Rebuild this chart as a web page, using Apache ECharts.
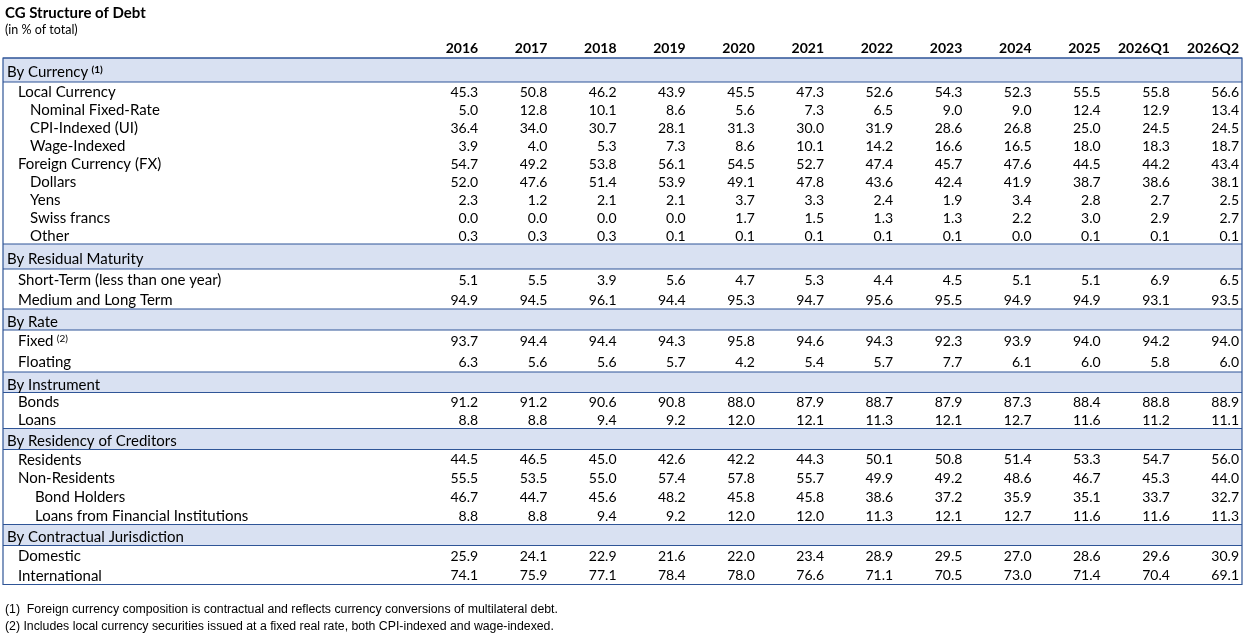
<!DOCTYPE html>
<html>
<head>
<meta charset="utf-8">
<script src="https://cdn.jsdelivr.net/npm/echarts@6/dist/echarts.min.js"></script>
<style>
  html, body { margin: 0; padding: 0; background: #fff; }
  #chart { width: 1246px; height: 634px; }
</style>
</head>
<body>
<div id="chart"></div>
<script>
/* -------------------------------------------------------------------------- */
// Data: columns and one array per table row
var columns = ['2016', '2017', '2018', '2019', '2020', '2021', '2022', '2023', '2024', '2025', '2026Q1', '2026Q2'];

var localCurrency   = [45.3, 50.8, 46.2, 43.9, 45.5, 47.3, 52.6, 54.3, 52.3, 55.5, 55.8, 56.6];
var nominalFixed    = [5.0, 12.8, 10.1, 8.6, 5.6, 7.3, 6.5, 9.0, 9.0, 12.4, 12.9, 13.4];
var cpiIndexed      = [36.4, 34.0, 30.7, 28.1, 31.3, 30.0, 31.9, 28.6, 26.8, 25.0, 24.5, 24.5];
var wageIndexed     = [3.9, 4.0, 5.3, 7.3, 8.6, 10.1, 14.2, 16.6, 16.5, 18.0, 18.3, 18.7];
var foreignCurrency = [54.7, 49.2, 53.8, 56.1, 54.5, 52.7, 47.4, 45.7, 47.6, 44.5, 44.2, 43.4];
var dollars         = [52.0, 47.6, 51.4, 53.9, 49.1, 47.8, 43.6, 42.4, 41.9, 38.7, 38.6, 38.1];
var yens            = [2.3, 1.2, 2.1, 2.1, 3.7, 3.3, 2.4, 1.9, 3.4, 2.8, 2.7, 2.5];
var swissFrancs     = [0.0, 0.0, 0.0, 0.0, 1.7, 1.5, 1.3, 1.3, 2.2, 3.0, 2.9, 2.7];
var otherCurrency   = [0.3, 0.3, 0.3, 0.1, 0.1, 0.1, 0.1, 0.1, 0.0, 0.1, 0.1, 0.1];
var shortTerm       = [5.1, 5.5, 3.9, 5.6, 4.7, 5.3, 4.4, 4.5, 5.1, 5.1, 6.9, 6.5];
var mediumLongTerm  = [94.9, 94.5, 96.1, 94.4, 95.3, 94.7, 95.6, 95.5, 94.9, 94.9, 93.1, 93.5];
var fixedRate       = [93.7, 94.4, 94.4, 94.3, 95.8, 94.6, 94.3, 92.3, 93.9, 94.0, 94.2, 94.0];
var floatingRate    = [6.3, 5.6, 5.6, 5.7, 4.2, 5.4, 5.7, 7.7, 6.1, 6.0, 5.8, 6.0];
var bonds           = [91.2, 91.2, 90.6, 90.8, 88.0, 87.9, 88.7, 87.9, 87.3, 88.4, 88.8, 88.9];
var loans           = [8.8, 8.8, 9.4, 9.2, 12.0, 12.1, 11.3, 12.1, 12.7, 11.6, 11.2, 11.1];
var residents       = [44.5, 46.5, 45.0, 42.6, 42.2, 44.3, 50.1, 50.8, 51.4, 53.3, 54.7, 56.0];
var nonResidents    = [55.5, 53.5, 55.0, 57.4, 57.8, 55.7, 49.9, 49.2, 48.6, 46.7, 45.3, 44.0];
var bondHolders     = [46.7, 44.7, 45.6, 48.2, 45.8, 45.8, 38.6, 37.2, 35.9, 35.1, 33.7, 32.7];
var loansFinancial  = [8.8, 8.8, 9.4, 9.2, 12.0, 12.0, 11.3, 12.1, 12.7, 11.6, 11.6, 11.3];
var domestic        = [25.9, 24.1, 22.9, 21.6, 22.0, 23.4, 28.9, 29.5, 27.0, 28.6, 29.6, 30.9];
var international   = [74.1, 75.9, 77.1, 78.4, 78.0, 76.6, 71.1, 70.5, 73.0, 71.4, 70.4, 69.1];

var footnotes = [
  '(1)  Foreign currency composition is contractual and reflects currency conversions of multilateral debt.',
  '(2) Includes local currency securities issued at a fixed real rate, both CPI-indexed and wage-indexed.'
];

// level 0 = section header, 1..3 = indented rows
var rows = [
  { label: 'By Currency', sup: '(1)', level: 0 },
  { label: 'Local Currency', level: 1, values: localCurrency },
  { label: 'Nominal Fixed-Rate', level: 2, values: nominalFixed },
  { label: 'CPI-Indexed (UI)', level: 2, values: cpiIndexed },
  { label: 'Wage-Indexed', level: 2, values: wageIndexed },
  { label: 'Foreign Currency (FX)', level: 1, values: foreignCurrency },
  { label: 'Dollars', level: 2, values: dollars },
  { label: 'Yens', level: 2, values: yens },
  { label: 'Swiss francs', level: 2, values: swissFrancs },
  { label: 'Other', level: 2, values: otherCurrency },
  { label: 'By Residual Maturity', level: 0 },
  { label: 'Short-Term (less than one year)', level: 1, values: shortTerm },
  { label: 'Medium and Long Term', level: 1, values: mediumLongTerm },
  { label: 'By Rate', level: 0 },
  { label: 'Fixed', sup: '(2)', level: 1, values: fixedRate },
  { label: 'Floating', level: 1, values: floatingRate },
  { label: 'By Instrument', level: 0 },
  { label: 'Bonds', level: 1, values: bonds },
  { label: 'Loans', level: 1, values: loans },
  { label: 'By Residency of Creditors', level: 0 },
  { label: 'Residents', level: 1, values: residents },
  { label: 'Non-Residents', level: 1, values: nonResidents },
  { label: 'Bond Holders', level: 3, values: bondHolders },
  { label: 'Loans from Financial Institutions', level: 3, values: loansFinancial },
  { label: 'By Contractual Jurisdiction', level: 0 },
  { label: 'Domestic', level: 1, values: domestic },
  { label: 'International', level: 1, values: international }
];
/* -------------------------------------------------------------------------- */

// Layout (pixel units on the hidden y axis)
var headerHeight = 22;
var rowHeights = [24, 18, 18, 18, 18, 18, 18, 18, 18, 18,
                  25, 20, 20,
                  21, 21, 21,
                  20.5, 18, 18,
                  21, 18.75, 18.75, 18.75, 18.75,
                  21, 19.5, 19.5];
var indents = [4, 15, 27, 32];
var labelColWidth = 409;
var cellPad = 3;
var borderColor = '#2f5597';
var bandColor = '#d9e1f2';
var fontFamily = 'Lato, "Open Sans", sans-serif';
var labelSize = 15;
var cellSize = 14;

var rowTops = [];
var acc = headerHeight;
rowHeights.forEach(function (h) { rowTops.push(acc); acc += h; });
var tableHeight = acc;

var bandData = [];
var labelData = [];
var cellData = [];
rows.forEach(function (r, i) {
  var mid = rowTops[i] + rowHeights[i] / 2;
  if (r.level === 0) bandData.push([0, rowTops[i], rowTops[i] + rowHeights[i]]);
  labelData.push([0, mid, i]);
  if (r.values) {
    r.values.forEach(function (v, c) { cellData.push([c, mid, v]); });
  }
});
var headerData = columns.map(function (c, i) { return [i, headerHeight / 2, i]; });

var renderBand = function (params, api) {
  var cs = params.coordSys;
  var y0 = api.coord([0, api.value(1)])[1];
  var y1 = api.coord([0, api.value(2)])[1];
  var x0 = cs.x - labelColWidth;
  var x1 = cs.x + cs.width;
  return {
    type: 'group',
    children: [
      { type: 'rect', shape: { x: x0, y: y0, width: x1 - x0, height: y1 - y0 }, style: { fill: bandColor } },
      { type: 'line', shape: { x1: x0, y1: y0, x2: x1, y2: y0 }, style: { stroke: borderColor, lineWidth: 1.2 } },
      { type: 'line', shape: { x1: x0, y1: y1, x2: x1, y2: y1 }, style: { stroke: borderColor, lineWidth: 1.2 } }
    ]
  };
};

var renderFrame = function (params, api) {
  var cs = params.coordSys;
  var y0 = api.coord([0, api.value(1)])[1];
  var y1 = api.coord([0, api.value(2)])[1];
  var x0 = cs.x - labelColWidth;
  return {
    type: 'rect',
    shape: { x: x0, y: y0, width: cs.x + cs.width - x0, height: y1 - y0 },
    style: { fill: null, stroke: borderColor, lineWidth: 1.2 }
  };
};

var renderLabel = function (params, api) {
  var cs = params.coordSys;
  var row = rows[api.value(2)];
  var y = api.coord([0, api.value(1)])[1];
  var text = row.sup ? '{m|' + row.label + '} {s|' + row.sup + '}' : '{m|' + row.label + '}';
  return {
    type: 'text',
    style: {
      text: text,
      x: cs.x - labelColWidth + indents[row.level],
      y: y + (row.level === 0 ? 2.5 : 1),
      align: 'left',
      verticalAlign: 'middle',
      rich: {
        m: { fontFamily: fontFamily, fontSize: labelSize, fill: '#000', color: '#000' },
        s: { fontFamily: fontFamily, fontSize: 10, fontWeight: row.level === 0 ? 'bold' : 'normal',
             fill: '#000', color: '#000', verticalAlign: 'top', padding: [0, 0, 6, 0] }
      }
    }
  };
};

var renderCell = function (params, api) {
  var p = api.coord([api.value(0), api.value(1)]);
  var bw = api.size([1, 0])[0];
  return {
    type: 'text',
    style: {
      text: api.value(2).toFixed(1),
      x: p[0] + bw / 2 - cellPad,
      y: p[1] + 1,
      align: 'right',
      verticalAlign: 'middle',
      fontFamily: fontFamily,
      fontSize: cellSize,
      fill: '#000'
    }
  };
};

var renderHeader = function (params, api) {
  var p = api.coord([api.value(0), api.value(1)]);
  var bw = api.size([1, 0])[0];
  return {
    type: 'text',
    style: {
      text: columns[api.value(2)],
      x: p[0] + bw / 2 - cellPad,
      y: p[1] + 1,
      align: 'right',
      verticalAlign: 'middle',
      fontFamily: fontFamily,
      fontSize: cellSize,
      fontWeight: 'bold',
      fill: '#000'
    }
  };
};

var chart = echarts.init(document.getElementById('chart'));
chart.setOption({
  animation: false,
  backgroundColor: '#fff',
  title: {
    text: 'CG Structure of Debt',
    subtext: '(in % of total)',
    left: 0,
    top: 1,
    itemGap: 2,
    textStyle: { fontFamily: fontFamily, fontSize: 15, fontWeight: 'bold', color: '#000' },
    subtextStyle: { fontFamily: fontFamily, fontSize: 12.5, color: '#000' }
  },
  grid: { left: 412, right: 4, top: 36, height: tableHeight },
  xAxis: { type: 'category', data: columns, show: false },
  yAxis: { type: 'value', min: 0, max: tableHeight, inverse: true, show: false },
  graphic: footnotes.map(function (t, i) {
    return {
      type: 'text',
      left: 5,
      top: 604 + i * 17,
      style: { text: t, fontFamily: '"Liberation Sans Narrow", "Liberation Sans", sans-serif', fontSize: 12.3, fill: '#000' }
    };
  }),
  series: [
    { type: 'custom', renderItem: renderBand, data: bandData, z: 1, silent: true },
    { type: 'custom', renderItem: renderFrame, data: [[0, headerHeight, tableHeight]], z: 2, silent: true },
    { type: 'custom', renderItem: renderLabel, data: labelData, z: 3, silent: true },
    { type: 'custom', renderItem: renderHeader, data: headerData, z: 3, silent: true },
    { type: 'custom', renderItem: renderCell, data: cellData, z: 3, silent: true }
  ]
});
</script>
</body>
</html>
